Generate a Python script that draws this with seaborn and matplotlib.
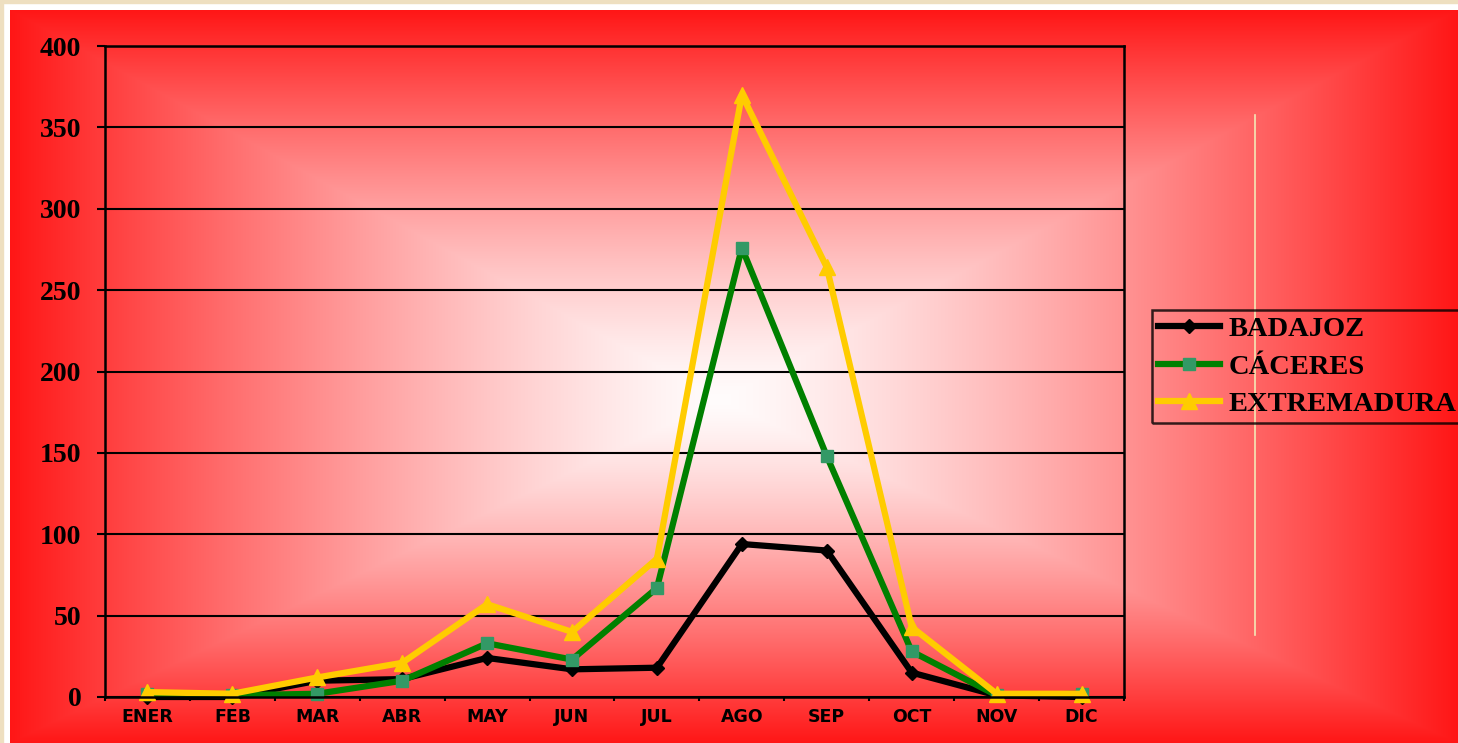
import numpy as np
import matplotlib
matplotlib.use("Agg")
import matplotlib.pyplot as plt
import seaborn as sns
from matplotlib.lines import Line2D
from matplotlib.patches import Rectangle
from matplotlib.font_manager import FontProperties

# ---------------- data ----------------
months = ["ENER", "FEB", "MAR", "ABR", "MAY", "JUN", "JUL", "AGO", "SEP", "OCT", "NOV", "DIC"]
badajoz = [0, 0, 10, 11, 24, 17, 18, 94, 90, 15, 1, 0]
caceres = [2, 1, 2, 10, 33, 23, 67, 276, 148, 28, 1, 2]
extremadura = [3, 2, 12, 21, 57, 40, 85, 370, 264, 43, 2, 2]
series_names = ["BADAJOZ", "CÁCERES", "EXTREMADURA"]
y_ticks = [0, 50, 100, 150, 200, 250, 300, 350, 400]

W, H = 1458, 743
fig = plt.figure(figsize=(W / 100, H / 100), dpi=100)
fig.patch.set_facecolor("white")

# thin beige border strips (top / left)
fig.add_artist(Rectangle((0, 1 - 3 / H), 1, 3 / H, transform=fig.transFigure,
                         color="#eedfc0", zorder=0))
fig.add_artist(Rectangle((0, 0), 3 / W, 1, transform=fig.transFigure,
                         color="#eedfc0", zorder=0))

# ---------------- rectangular "from centre" gradient background ----------------
x0, y0 = 10, 10
bg = fig.add_axes([x0 / W, 0, (W - x0) / W, (H - y0) / H])
bg.set_axis_off()
xs = np.arange(x0, W) + 0.5
ys = np.arange(y0, H) + 0.5
X, Y = np.meshgrid(xs, ys)
cx, cy = 720, 400
tx = np.where(X < cx, (cx - X) / (cx - x0), (X - cx) / (W - cx))
ty = np.where(Y < cy, (cy - Y) / (cy - y0), (Y - cy) / (H - cy))
t = np.clip(np.maximum(tx, ty), 0, 1)
f = t ** 1.3
white = np.array([255, 252, 252]) / 255
red = np.array([255, 22, 22]) / 255
img = white * (1 - f[..., None]) + red * f[..., None]
bg.imshow(img, aspect="auto", interpolation="bilinear")

# ---------------- main axes ----------------
ax = fig.add_axes([105 / W, 1 - 697 / H, (1124 - 105) / W, (697 - 46) / H])
ax.patch.set_alpha(0)

xpos = np.arange(len(months))
styles = [
    dict(color="black", marker="D", ms=7, mfc="black", mec="black"),
    dict(color="#008000", marker="s", ms=8, mfc="#339966", mec="#339966"),
    dict(color="#FFCC00", marker="^", ms=11, mfc="#FFCC00", mec="#FFCC00"),
]
for name, vals, st in zip(series_names, [badajoz, caceres, extremadura], styles):
    sns.lineplot(x=xpos, y=vals, ax=ax, lw=4.5, label=name, clip_on=False,
                 mew=1, **st)

ax.set_xlim(-0.5, len(months) - 0.5)
ax.set_ylim(0, 400)
ax.set_yticks(y_ticks)
ax.set_yticklabels([str(v) for v in y_ticks])
ax.set_xticks(xpos)
ax.set_xticklabels(months)
ax.set_xticks(np.arange(-0.5, len(months), 1), minor=True)
ax.set_xlabel("")
ax.set_ylabel("")

ax.yaxis.grid(True, color="black", lw=1.5)
ax.set_axisbelow(True)
for side in ["left", "bottom", "right", "top"]:
    ax.spines[side].set_color("black")
    ax.spines[side].set_linewidth(1.8)

ax.tick_params(axis="y", which="major", length=6, width=1.5, color="black", pad=11)
ax.tick_params(axis="x", which="major", length=0, pad=8)
ax.tick_params(axis="x", which="minor", length=3, width=1.5, color="black")

for lbl in ax.get_yticklabels():
    lbl.set_fontfamily("Liberation Serif")
    lbl.set_fontweight("bold")
    lbl.set_fontsize(20)
for lbl in ax.get_xticklabels():
    lbl.set_fontfamily("DejaVu Sans")
    lbl.set_fontweight("bold")
    lbl.set_fontsize(12.5)

# thin decorative vertical line at right
fig.add_artist(Line2D([1254.5 / W] * 2, [1 - 115 / H, 1 - 635 / H],
                      transform=fig.transFigure, color="#f3e7b5", lw=1.2, zorder=2))

# ---------------- legend ----------------
handles, labels = ax.get_legend_handles_labels()
if ax.get_legend() is not None:
    ax.get_legend().remove()
leg = fig.legend(handles, labels, loc="upper left",
                 bbox_to_anchor=(1152 / W, 1 - 310 / H), borderaxespad=0,
                 prop=FontProperties(family="Liberation Serif", weight="bold", size=20.5),
                 frameon=True, fancybox=False, edgecolor="black", facecolor="none",
                 borderpad=0.2, labelspacing=0.42, handlelength=2.2,
                 handletextpad=0.3)
leg.get_frame().set_linewidth(1.8)
leg.set_zorder(5)

fig.savefig("out.png", dpi=100)
